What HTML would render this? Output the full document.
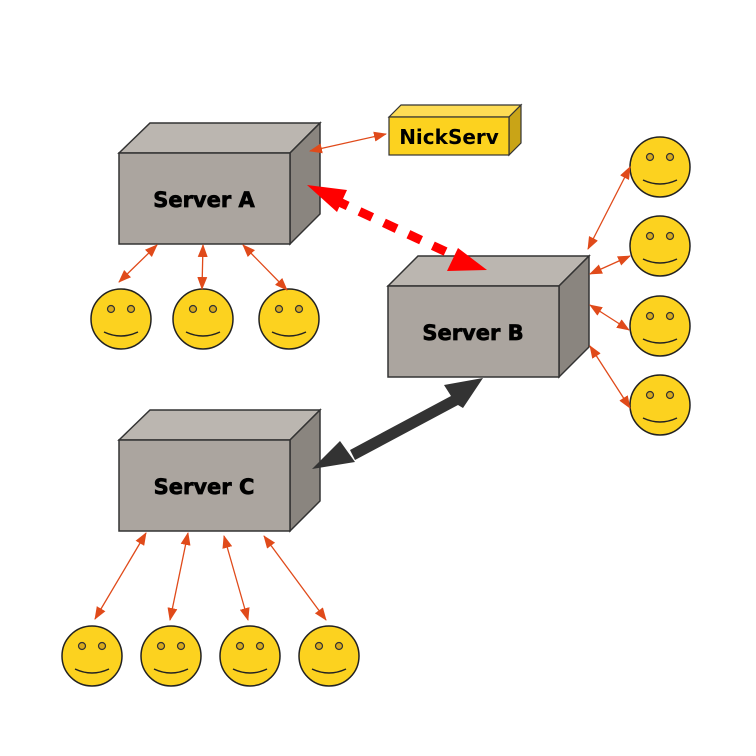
<!DOCTYPE html>
<html><head><meta charset="utf-8"><style>
html,body{margin:0;padding:0;background:#fff;}
svg{display:block}
text{font-family:"DejaVu Sans","Liberation Sans",sans-serif;font-weight:bold;}
</style></head><body>
<svg width="756" height="756" viewBox="0 0 756 756" xmlns="http://www.w3.org/2000/svg">
<defs>
<marker id="oa" markerWidth="13" markerHeight="10" refX="12" refY="5" orient="auto-start-reverse" markerUnits="userSpaceOnUse" viewBox="0 0 13 10">
<path d="M0,0 L13,5 L0,10 Z" fill="#e04a1a"/></marker>
<g id="smile">
<circle r="30" fill="#fcd21f" stroke="#222" stroke-width="1.5"/>
<circle cx="-10" cy="-10" r="3.5" fill="#d8a91a" stroke="#333" stroke-width="1.2"/>
<circle cx="10" cy="-10" r="3.5" fill="#d8a91a" stroke="#333" stroke-width="1.2"/>
<path d="M-17,13 Q0,21 17,13" fill="none" stroke="#222" stroke-width="1.5"/>
</g>
</defs>

<g stroke="#333" stroke-width="1.5">
<polygon points="119,153 150,123 320,123 290,153" fill="#bbb6b0"/>
<polygon points="290,153 320,123 320,214 290,244" fill="#8a857f"/>
<rect x="119" y="153" width="171" height="91" fill="#aba59f"/>
</g>
<text x="204" y="207" font-size="21" text-anchor="middle" stroke="#000" stroke-width="0.7">Server A</text>

<g stroke="#333" stroke-width="1.5">
<polygon points="388,286 418,256 589,256 559,286" fill="#bbb6b0"/>
<polygon points="559,286 589,256 589,347 559,377" fill="#8a857f"/>
<rect x="388" y="286" width="171" height="91" fill="#aba59f"/>
</g>
<text x="473" y="340" font-size="21" text-anchor="middle" stroke="#000" stroke-width="0.7">Server B</text>

<g stroke="#333" stroke-width="1.5">
<polygon points="119,440 150,410 320,410 290,440" fill="#bbb6b0"/>
<polygon points="290,440 320,410 320,501 290,531" fill="#8a857f"/>
<rect x="119" y="440" width="171" height="91" fill="#aba59f"/>
</g>
<text x="204" y="494" font-size="21" text-anchor="middle" stroke="#000" stroke-width="0.7">Server C</text>

<g stroke="#333" stroke-width="1.2">
<polygon points="389,117 401,105 521,105 509,117" fill="#fddc55"/>
<polygon points="509,117 521,105 521,143 509,155" fill="#c9a417"/>
<rect x="389" y="117" width="120" height="38" fill="#fcd21f"/>
</g>
<text x="449" y="144" font-size="20" text-anchor="middle">NickServ</text>

<use href="#smile" x="121" y="319"/>
<use href="#smile" x="203" y="319"/>
<use href="#smile" x="289" y="319"/>
<use href="#smile" x="660" y="167"/>
<use href="#smile" x="660" y="246"/>
<use href="#smile" x="660" y="326"/>
<use href="#smile" x="660" y="405"/>
<use href="#smile" x="92" y="656"/>
<use href="#smile" x="171" y="656"/>
<use href="#smile" x="250" y="656"/>
<use href="#smile" x="329" y="656"/>

<g stroke="#e04a1a" stroke-width="1.3" marker-start="url(#oa)" marker-end="url(#oa)">
<line x1="310" y1="151" x2="386" y2="134"/>
<line x1="157" y1="245" x2="119" y2="282"/>
<line x1="203" y1="245" x2="202" y2="289"/>
<line x1="243" y1="245" x2="287" y2="290"/>
<line x1="146" y1="533" x2="95" y2="619"/>
<line x1="188" y1="533" x2="170" y2="620"/>
<line x1="224" y1="536" x2="248" y2="620"/>
<line x1="264" y1="536" x2="326" y2="620"/>
<line x1="588" y1="249" x2="630" y2="167"/>
<line x1="590" y1="274" x2="630" y2="256"/>
<line x1="590" y1="305" x2="629" y2="330"/>
<line x1="590" y1="346" x2="630" y2="408"/>
</g>

<line x1="335" y1="200" x2="455" y2="256" stroke="#f00" stroke-width="9" stroke-dasharray="14,13"/>
<polygon points="307,185 347,190 337,212" fill="#f00"/>
<polygon points="487,270 447,271 458,248" fill="#f00"/>

<polygon points="483,378 444,385 451,396 350,450 355,460 458,405 463,408" fill="#333"/>
<polygon points="312,469 340,441 355,462" fill="#333"/>
</svg>
</body></html>
